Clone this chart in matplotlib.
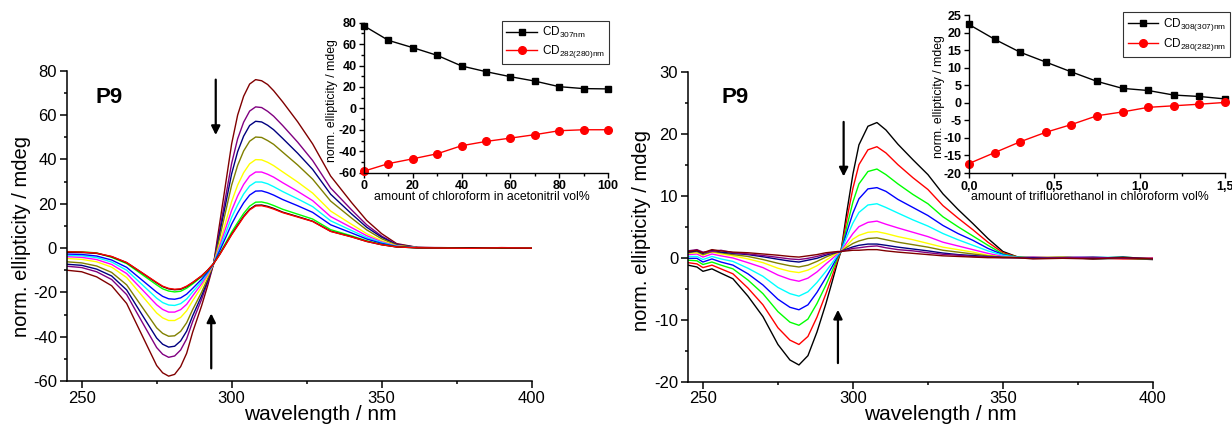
import matplotlib
matplotlib.use("Agg")
import matplotlib.pyplot as plt
from matplotlib.ticker import MultipleLocator, FixedLocator

plt.rcParams['font.family'] = ['Liberation Sans', 'DejaVu Sans']
plt.rcParams['mathtext.default'] = 'regular'
plt.rcParams['axes.unicode_minus'] = False

# ---------------- Left panel data (acetonitrile -> chloroform) ----------------
wl_left = [245, 250, 255, 260, 265, 270, 275, 277, 279, 281, 283, 285, 287, 290, 292, 294, 296, 298,
           300, 302, 304, 306, 308, 310, 312, 314, 317, 322, 327, 333, 340, 345, 350, 355, 362,
           370, 380, 390, 400]
left_wine = [-10, -10.7, -13, -17, -25, -39, -53, -56.3, -57.8, -57, -53.5, -47.5, -38, -26, -17, -7, 11, 29,
             47, 60, 68.5, 74, 76, 75.5, 73.8, 71, 66, 57, 47, 32.5, 20.5, 12.5, 6.5, 2, 0.3,
             0.1, -0.1, 0.2, 0]
left_purple = [-8.2, -8.8, -10.7, -14.2, -21.0, -33.0, -44.9, -47.9, -49.3, -48.7, -46.0, -41.0, -33.2, -23.1, -15.5, -7, 8.0, 23.1,
               38.2, 49.3, 56.8, 61.8, 63.7, 63.4, 61.7, 59.5, 55.3, 47.8, 39.5, 27.1, 17.2, 10.5, 5.4, 1.7, 0.26,
               0.2, 0.0, 0.1, -0.1]
left_navy = [-7.3, -7.8, -9.5, -12.6, -18.9, -29.8, -40.6, -43.4, -44.7, -44.3, -41.9, -37.5, -30.6, -21.5, -14.7, -7, 6.4, 19.9,
             33.5, 43.5, 50.5, 55.3, 57.2, 56.9, 55.4, 53.4, 49.5, 42.8, 35.5, 24.3, 15.4, 9.4, 4.9, 1.5, 0.23,
             0.0, 0.1, -0.1, 0.1]
left_olive = [-6.2, -6.7, -8.1, -11.0, -16.6, -26.3, -36.0, -38.5, -39.8, -39.6, -37.6, -33.7, -27.8, -19.9, -13.8, -7, 4.6, 16.5,
              28.4, 37.3, 43.8, 48.2, 50.1, 49.9, 48.5, 46.8, 43.3, 37.5, 31.1, 21.2, 13.5, 8.2, 4.2, 1.3, 0.2,
              0.1, -0.1, 0.0, 0.1]
left_yellow = [-4.7, -5.1, -6.2, -8.6, -13.3, -21.3, -29.3, -31.5, -32.7, -32.7, -31.3, -28.3, -23.8, -17.5, -12.6, -7, 2.1, 11.6,
               21.0, 28.4, 34.0, 38.0, 39.9, 39.8, 38.7, 37.2, 34.4, 29.8, 24.8, 16.7, 10.7, 6.5, 3.3, 1.05, 0.17,
               0.0, 0.1, 0.0, -0.1]
left_magenta = [-3.9, -4.2, -5.2, -7.4, -11.5, -18.5, -25.6, -27.7, -28.9, -28.9, -27.8, -25.4, -21.6, -16.1, -11.9, -7, 0.8, 8.9,
                17.0, 23.5, 28.7, 32.5, 34.3, 34.3, 33.3, 32.0, 29.5, 25.6, 21.4, 14.2, 9.2, 5.6, 2.8, 0.9, 0.15,
                0.1, 0.0, -0.1, 0.0]
left_cyan = [-3.3, -3.5, -4.3, -6.3, -10.0, -16.3, -22.6, -24.6, -25.7, -25.9, -25.1, -23.0, -19.8, -15.1, -11.3, -7, -0.3, 6.7,
             13.8, 19.5, 24.4, 28.0, 29.8, 29.8, 29.0, 27.7, 25.5, 22.2, 18.7, 12.3, 7.9, 4.8, 2.5, 0.8, 0.14,
             -0.1, 0.1, 0.0, 0.0]
left_blue = [-2.7, -2.9, -3.6, -5.4, -8.7, -14.3, -19.9, -21.8, -22.9, -23.1, -22.5, -20.8, -18.2, -14.1, -10.8, -7, -1.3, 4.7,
             10.8, 15.9, 20.4, 23.9, 25.7, 25.8, 25.0, 23.9, 21.9, 19.1, 16.1, 10.5, 6.8, 4.1, 2.1, 0.7, 0.12,
             0.0, -0.1, 0.1, 0.0]
left_green = [-1.6, -1.7, -2.2, -4.2, -7.0, -11.8, -16.6, -18.4, -19.4, -19.8, -19.5, -18.1, -16.2, -12.9, -10.2, -7, -2.6, 2.3,
              7.2, 11.5, 15.6, 18.9, 20.7, 20.8, 20.2, 19.2, 17.5, 15.3, 13.1, 8.3, 5.5, 3.3, 1.65, 0.55, 0.1,
              0.1, 0.0, -0.1, 0.0]
left_black = [-1.9, -2.0, -2.4, -3.9, -6.6, -11.1, -15.7, -17.4, -18.4, -18.8, -18.6, -17.4, -15.6, -12.6, -10.0, -7, -2.9, 1.6,
              6.2, 10.3, 14.3, 17.5, 19.3, 19.4, 18.8, 17.9, 16.2, 14.2, 12.1, 7.6, 5.1, 3.0, 1.5, 0.5, 0.1,
              0.0, 0.1, 0.0, -0.1]
left_red = [-1.7, -1.8, -2.3, -3.8, -6.5, -11.0, -15.5, -17.2, -18.2, -18.6, -18.4, -17.2, -15.5, -12.5, -10.0, -7, -3.0, 1.5,
            6.0, 10.0, 14.0, 17.2, 19.0, 19.1, 18.5, 17.6, 16.0, 14.0, 12.0, 7.5, 5.0, 3.0, 1.5, 0.5, 0.1,
            0.0, -0.1, 0.1, 0.0]
left_series = [left_wine, left_purple, left_navy, left_olive, left_yellow, left_magenta,
               left_cyan, left_blue, left_green, left_black, left_red]
left_colors = ['#800000', '#800080', '#000080', '#808000', '#FFFF00', '#FF00FF',
               '#00FFFF', '#0000FF', '#00FF00', '#000000', '#FF0000']

# inset (left)
inset_left_x = [0, 10, 20, 30, 40, 50, 60, 70, 80, 90, 100]
inset_left_cd307 = [77, 63.5, 56.7, 49.5, 39.6, 34.3, 29.6, 25.5, 20.3, 18.5, 18.2]
inset_left_cd282 = [-58.5, -51.5, -47, -42.3, -34.8, -30.8, -27.7, -24.5, -20.8, -19.9, -19.9]
inset_left_labels = [r'CD$_{307nm}$', r'CD$_{282(280)nm}$']

# ---------------- Right panel data (chloroform -> trifluoroethanol) ----------------
wl_right = [245, 248, 250, 253, 256, 260, 265, 270, 275, 279, 282, 285, 288, 291, 293, 295, 296, 298,
            300, 302, 305, 308, 311, 315, 320, 325, 330, 335, 340, 345, 350, 355,
            360, 370, 380, 390, 400]
right_black = [-1.2, -1.5, -2.2, -1.8, -2.5, -3.4, -6.2, -9.5, -14.0, -16.5, -17.3, -15.8, -12.0, -7.4, -4.0, -0.5, 1.0, 7.5,
               13.5, 18.2, 21.2, 21.8, 20.6, 18.3, 15.8, 13.4, 10.3, 7.8, 5.5, 3.1, 1.0, 0.1, -0.1, 0.1, -0.2, -0.1, -0.3]
right_red = [-0.8, -1.0, -1.6, -1.2, -1.8, -2.6, -4.9, -7.6, -11.3, -13.3, -14.0, -12.7, -9.6, -5.8, -3.1, -0.2, 1.0, 6.3,
             11.2, 15.0, 17.4, 17.9, 16.9, 15.0, 12.9, 11.0, 8.4, 6.4, 4.5, 2.5, 0.8, 0.1, 0.0, -0.1, 0.0, -0.2, -0.1]
right_green = [-0.4, -0.5, -1.1, -0.7, -1.2, -1.8, -3.6, -5.8, -8.7, -10.4, -10.9, -9.9, -7.4, -4.4, -2.2, 0.05, 1.0, 5.1,
               9.0, 11.9, 13.9, 14.3, 13.4, 11.9, 10.2, 8.7, 6.6, 5.0, 3.5, 2.0, 0.6, 0.1, 0.1, 0.0, -0.1, 0.1, -0.2]
right_blue = [-0.1, -0.1, -0.7, -0.2, -0.7, -1.2, -2.6, -4.4, -6.7, -8.0, -8.4, -7.6, -5.6, -3.2, -1.5, 0.3, 1.0, 4.2,
              7.2, 9.5, 11.1, 11.3, 10.7, 9.4, 8.1, 6.8, 5.2, 3.9, 2.8, 1.5, 0.5, 0.05, -0.1, 0.1, 0.0, -0.1, -0.1]
right_cyan = [0.2, 0.2, -0.3, 0.2, -0.2, -0.6, -1.7, -3.0, -4.8, -5.8, -6.2, -5.5, -4.0, -2.2, -0.9, 0.5, 1.0, 3.4,
              5.6, 7.3, 8.5, 8.7, 8.1, 7.2, 6.1, 5.1, 3.9, 2.9, 2.0, 1.1, 0.4, 0.04, 0.0, -0.1, 0.1, 0.0, -0.2]
right_magenta = [0.5, 0.6, 0.1, 0.6, 0.3, -0.05, -0.8, -1.6, -2.8, -3.5, -3.8, -3.3, -2.3, -1.0, -0.2, 0.7, 1.0, 2.5,
                 3.9, 5.0, 5.7, 5.9, 5.4, 4.8, 4.1, 3.4, 2.5, 1.9, 1.3, 0.7, 0.2, 0.0, 0.1, 0.0, -0.1, -0.1, 0.0]
right_yellow = [0.7, 0.8, 0.4, 0.9, 0.6, 0.3, -0.2, -0.8, -1.7, -2.2, -2.4, -2.0, -1.3, -0.4, 0.2, 0.8, 1.0, 2.0,
                3.0, 3.6, 4.1, 4.2, 3.9, 3.4, 2.9, 2.3, 1.7, 1.3, 0.9, 0.4, 0.1, 0.0, 0.0, 0.1, -0.1, 0.0, -0.1]
right_olive = [0.8, 1.0, 0.5, 1.0, 0.8, 0.5, 0.2, -0.3, -0.9, -1.3, -1.5, -1.2, -0.6, 0.1, 0.5, 0.9, 1.0, 1.7,
               2.3, 2.7, 3.1, 3.2, 2.9, 2.5, 2.1, 1.7, 1.2, 0.9, 0.6, 0.3, 0.1, 0.0, -0.1, 0.0, 0.0, -0.1, -0.2]
right_navy = [0.9, 1.1, 0.7, 1.2, 0.9, 0.7, 0.5, 0.15, -0.25, -0.55, -0.7, -0.4, -0.1, 0.4, 0.7, 0.9, 1.0, 1.4,
              1.75, 2.0, 2.2, 2.2, 2.0, 1.7, 1.4, 1.1, 0.75, 0.5, 0.35, 0.15, 0.05, 0.0, 0.0, -0.1, -0.1, 0.1, -0.2]
right_purple = [1.1, 1.3, 0.9, 1.0, 1.2, 0.8, 0.6, 0.35, 0.05, -0.2, -0.3, -0.1, 0.2, 0.6, 0.8, 0.95, 1.0, 1.25,
                1.5, 1.6, 1.8, 1.9, 1.6, 1.3, 1.1, 0.8, 0.55, 0.4, 0.2, 0.1, 0.0, 0.0, -0.1, 0.0, 0.1, -0.1, -0.1]
right_wine = [1.0, 1.2, 0.8, 1.3, 1.1, 0.9, 0.8, 0.6, 0.4, 0.2, 0.1, 0.3, 0.5, 0.8, 0.9, 1.0, 1.0, 1.1,
              1.2, 1.2, 1.3, 1.3, 1.1, 0.9, 0.7, 0.5, 0.3, 0.2, 0.1, 0.0, 0.0, 0.0, -0.2, -0.1, -0.2, 0.0, -0.2]
right_series = [right_black, right_red, right_green, right_blue, right_cyan, right_magenta,
                right_yellow, right_olive, right_navy, right_purple, right_wine]
right_colors = ['#000000', '#FF0000', '#00FF00', '#0000FF', '#00FFFF', '#FF00FF',
                '#FFFF00', '#808000', '#000080', '#800080', '#800000']

# inset (right)
inset_right_x = [0.0, 0.15, 0.3, 0.45, 0.6, 0.75, 0.9, 1.05, 1.2, 1.35, 1.5]
inset_right_cd308 = [22.3, 18.1, 14.4, 11.6, 8.8, 6.1, 4.1, 3.5, 2.2, 1.8, 1.1]
inset_right_cd280 = [-17.3, -14.2, -11.1, -8.4, -6.2, -3.7, -2.6, -1.3, -0.85, -0.4, 0.1]
inset_right_labels = [r'CD$_{308(307)nm}$', r'CD$_{280(282)nm}$']
inset_right_ticklabels = ['0,0', '0,5', '1,0', '1,5']

# ---------------- Figure ----------------
fig = plt.figure(figsize=(12.32, 4.25), dpi=100)

def style_axes(ax, lw=1.1, major=5, minor=2.5, size=11.5):
    for s in ['top', 'right']:
        ax.spines[s].set_visible(False)
    for s in ['left', 'bottom']:
        ax.spines[s].set_linewidth(lw)
    ax.tick_params(which='major', direction='out', length=major, width=lw, labelsize=size, pad=2)
    ax.tick_params(which='minor', direction='out', length=minor, width=lw)

def arrow(ax, x, y0, y1):
    ax.annotate('', xy=(x, y1), xytext=(x, y0),
                arrowprops=dict(arrowstyle='-|>', lw=1.6, color='black', mutation_scale=13,
                                shrinkA=0, shrinkB=0))

# left main
axL = fig.add_axes([0.0541, 0.1035, 0.3774, 0.730])
for ys, c in zip(left_series, left_colors):
    axL.plot(wl_left, ys, color=c, lw=1.0)
axL.set_xlim(245, 400)
axL.set_ylim(-60, 80)
axL.xaxis.set_major_locator(FixedLocator([250, 300, 350, 400]))
axL.xaxis.set_minor_locator(FixedLocator([275, 325, 375]))
axL.yaxis.set_major_locator(MultipleLocator(20))
axL.yaxis.set_minor_locator(MultipleLocator(10))
style_axes(axL, size=12)
axL.set_ylabel('norm. ellipticity / mdeg', fontsize=14.5)
axL.set_xlabel('wavelength / nm', fontsize=15, va='bottom')
axL.yaxis.set_label_coords(-0.077, 0.466)
axL.xaxis.set_label_coords(0.545, -0.139)
axL.text(254.5, 68, 'P9', fontsize=16, fontweight='bold', ha='left', va='center')
arrow(axL, 294.7, 76, 51)
arrow(axL, 293.2, -54.3, -29.5)

# right main
axR = fig.add_axes([0.5584, 0.1019, 0.3774, 0.7294])
for ys, c in zip(right_series, right_colors):
    axR.plot(wl_right, ys, color=c, lw=1.0)
axR.set_xlim(245, 400)
axR.set_ylim(-20, 30)
axR.xaxis.set_major_locator(FixedLocator([250, 300, 350, 400]))
axR.xaxis.set_minor_locator(FixedLocator([275, 325, 375]))
axR.yaxis.set_major_locator(MultipleLocator(10))
axR.yaxis.set_minor_locator(MultipleLocator(5))
style_axes(axR, size=12)
axR.set_ylabel('norm. ellipticity / mdeg', fontsize=14.5)
axR.set_xlabel('wavelength / nm', fontsize=15, va='bottom')
axR.yaxis.set_label_coords(-0.079, 0.489)
axR.xaxis.set_label_coords(0.542, -0.136)
axR.text(256.2, 25.8, 'P9', fontsize=16, fontweight='bold', ha='left', va='center')
arrow(axR, 296.9, 21.9, 13.1)
arrow(axR, 295.0, -17.0, -8.4)

# left inset
axIL = fig.add_axes([0.2955, 0.5936, 0.198, 0.353])
axIL.plot(inset_left_x, inset_left_cd307, color='black', marker='s', ms=5, lw=1.0, label=inset_left_labels[0])
axIL.plot(inset_left_x, inset_left_cd282, color='red', marker='o', ms=5.5, lw=1.0, label=inset_left_labels[1])
axIL.set_xlim(0, 100)
axIL.set_ylim(-60, 80)
axIL.xaxis.set_major_locator(MultipleLocator(20))
axIL.xaxis.set_minor_locator(MultipleLocator(10))
axIL.yaxis.set_major_locator(MultipleLocator(20))
axIL.yaxis.set_minor_locator(MultipleLocator(10))
style_axes(axIL, lw=1.0, major=3.5, minor=2, size=9)
for t in axIL.get_xticklabels() + axIL.get_yticklabels():
    t.set_fontweight('bold')
axIL.set_ylabel('norm. ellipticity / mdeg', fontsize=8.8)
axIL.set_xlabel('amount of chloroform in acetonitril vol%', fontsize=8.8)
axIL.yaxis.set_label_coords(-0.105, 0.478)
axIL.xaxis.set_label_coords(0.484, -0.12)
axIL.patch.set_alpha(0)
legL = axIL.legend(loc='upper right', bbox_to_anchor=(1.004, 1.011), borderaxespad=0,
                   fontsize=8.5, frameon=True, fancybox=False, handlelength=2.6,
                   handletextpad=0.4, borderpad=0.35, labelspacing=0.25)
legL.get_frame().set_edgecolor('black')
legL.get_frame().set_linewidth(0.8)

# right inset
axIR = fig.add_axes([0.7865, 0.5929, 0.2078, 0.3718])
axIR.plot(inset_right_x, inset_right_cd308, color='black', marker='s', ms=5, lw=1.0, label=inset_right_labels[0])
axIR.plot(inset_right_x, inset_right_cd280, color='red', marker='o', ms=5.5, lw=1.0, label=inset_right_labels[1])
axIR.set_xlim(0, 1.5)
axIR.set_ylim(-20, 25)
axIR.xaxis.set_major_locator(FixedLocator([0.0, 0.5, 1.0, 1.5]))
axIR.set_xticklabels(inset_right_ticklabels)
axIR.xaxis.set_minor_locator(FixedLocator([0.25, 0.75, 1.25]))
axIR.yaxis.set_major_locator(MultipleLocator(5))
style_axes(axIR, lw=1.0, major=3.5, minor=2, size=9)
for t in axIR.get_xticklabels() + axIR.get_yticklabels():
    t.set_fontweight('bold')
axIR.set_ylabel('norm. ellipticity / mdeg', fontsize=8.8)
axIR.set_xlabel('amount of trifluorethanol in chloroform vol%', fontsize=8.8)
axIR.yaxis.set_label_coords(-0.095, 0.487)
axIR.xaxis.set_label_coords(0.473, -0.115)
axIR.patch.set_alpha(0)
legR = axIR.legend(loc='upper right', bbox_to_anchor=(1.02, 1.019), borderaxespad=0,
                   fontsize=8.5, frameon=True, fancybox=False, handlelength=2.6,
                   handletextpad=0.4, borderpad=0.35, labelspacing=0.25)
legR.get_frame().set_edgecolor('black')
legR.get_frame().set_linewidth(0.8)
for ax in (axIL, axIR):
    for l in ax.get_lines():
        l.set_clip_on(False)

fig.savefig('out.png', dpi=100)
